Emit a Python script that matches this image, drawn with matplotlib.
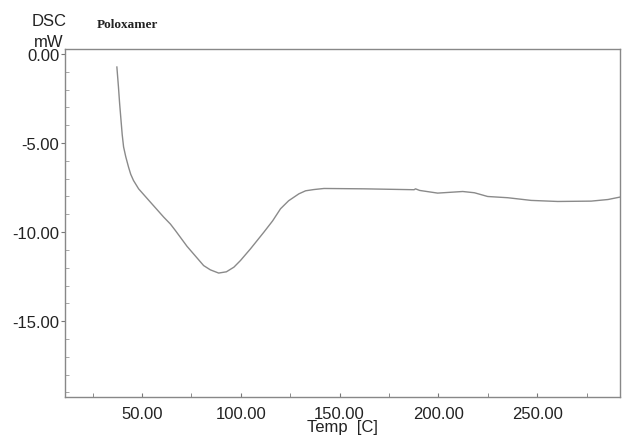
import matplotlib
matplotlib.use("Agg")
import matplotlib.pyplot as plt
from matplotlib.ticker import MultipleLocator, FormatStrFormatter

# DSC trace of Poloxamer
temp = [37.3, 38.1, 38.7, 39.4, 40.0, 40.7, 41.8, 43.2, 44.3, 45.7, 48.3,
        54.2, 61.0, 64.4, 66.9, 72.8, 81.2, 84.6, 88.8, 92.7, 96.5, 99.8,
        104.9, 111.7, 116.1, 120.1, 124.2, 129.4, 132.8, 137.0, 142.1,
        162.4, 187.7, 188.4, 190.5, 199.6, 212.3, 218.2, 224.9, 235.1,
        246.9, 260.4, 277.3, 285.8, 292.0]
dsc = [-0.73, -1.85, -2.79, -3.73, -4.53, -5.22, -5.77, -6.35, -6.75, -7.10,
       -7.57, -8.31, -9.16, -9.55, -9.91, -10.80, -11.88, -12.12, -12.30,
       -12.23, -11.97, -11.60, -10.94, -10.00, -9.37, -8.69, -8.24, -7.85,
       -7.68, -7.61, -7.55, -7.57, -7.62, -7.57, -7.66, -7.81, -7.72, -7.79,
       -8.00, -8.07, -8.22, -8.28, -8.26, -8.17, -8.03]

plt.rcParams['font.family'] = ['Liberation Sans', 'DejaVu Sans']

fig = plt.figure(figsize=(6.24, 4.39), dpi=100)
ax = fig.add_axes([0.104, 0.093, 0.890, 0.793])

ax.plot(temp, dsc, color='#8a8a8a', lw=1.0)

ax.set_xlim(11, 292)
ax.set_ylim(-19.27, 0.28)

ax.xaxis.set_major_locator(MultipleLocator(50))
ax.xaxis.set_minor_locator(MultipleLocator(25))
ax.yaxis.set_major_locator(MultipleLocator(5))
ax.yaxis.set_minor_locator(MultipleLocator(1))
ax.xaxis.set_major_formatter(FormatStrFormatter('%.2f'))
ax.yaxis.set_major_formatter(FormatStrFormatter('%.2f'))

ax.tick_params(axis='x', which='both', direction='in', length=3,
               color='#777777', labelsize=12, labelcolor='#222222', pad=6)
ax.tick_params(axis='y', which='major', direction='out', length=3,
               color='#777777', labelsize=12, labelcolor='#222222', pad=1)
ax.tick_params(axis='y', which='minor', direction='in', length=3,
               color='#999999')

for s in ax.spines.values():
    s.set_color('#888888')
    s.set_linewidth(1.0)

ax.set_xlabel('Temp  [C]', fontsize=12, color='#222222', labelpad=-1)

fig.text(0.078, 0.952, 'DSC', ha='center', va='center', fontsize=12,
         color='#222222')
fig.text(0.078, 0.903, 'mW', ha='center', va='center', fontsize=12,
         color='#222222')
fig.text(0.155, 0.942, 'Poloxamer', ha='left', va='center', fontsize=9.5,
         fontweight='bold', family='Liberation Serif', color='#222222')

fig.savefig('out.png', dpi=100)
